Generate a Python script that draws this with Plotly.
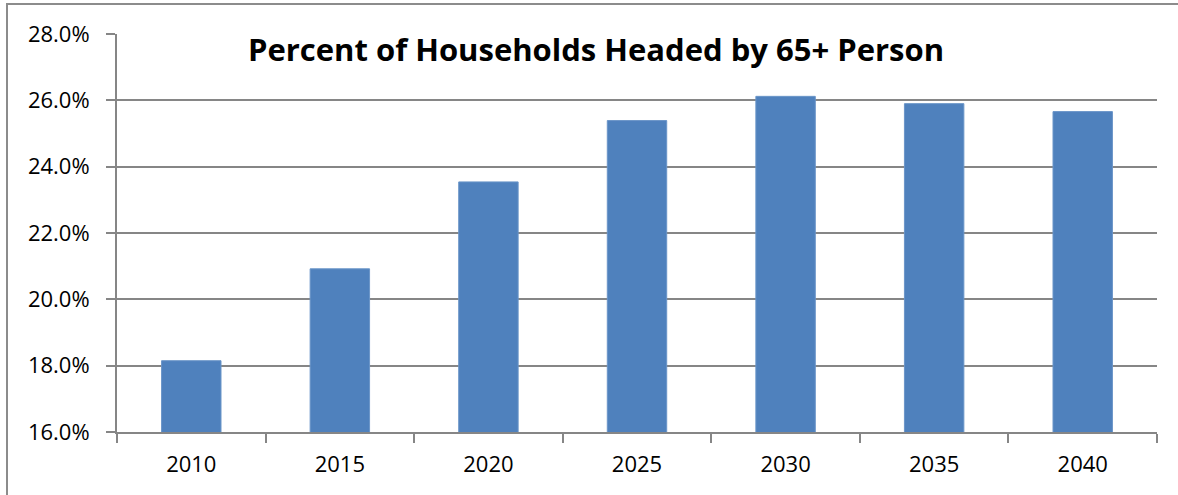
import plotly.graph_objects as go

years = ["2010", "2015", "2020", "2025", "2030", "2035", "2040"]
pct_65plus = [18.15, 20.92, 23.54, 25.39, 26.12, 25.90, 25.66]
y_ticks = [16, 18, 20, 22, 24, 26, 28]
y_tick_labels = ["16.0%", "18.0%", "20.0%", "22.0%", "24.0%", "26.0%", "28.0%"]

W, H = 1178, 495
L, R, T, B = 117, 21, 34, 63
fig = go.Figure()
fig.add_trace(go.Bar(
    x=years, y=pct_65plus, width=0.4,
    marker=dict(color="#4F81BD", line=dict(color="#6A95C8", width=1)),
))

axis_col = "#868686"
fig.update_layout(
    width=W, height=H,
    margin=dict(l=L, r=R, t=T, b=B),
    paper_bgcolor="white", plot_bgcolor="white",
    showlegend=False,
    font=dict(family="Open Sans, sans-serif", color="black"),
    title=dict(text="<b>Percent of Households Headed by 65+ Person</b>",
               x=596 / W, xanchor="center", xref="container",
               y=1 - 50 / H, yanchor="middle", yref="container",
               font=dict(size=31, color="black")),
)
fig.update_xaxes(
    type="category", showline=True, linecolor=axis_col, linewidth=2,
    ticks="outside", tickson="boundaries", ticklen=9, tickcolor=axis_col, tickwidth=2,
    showgrid=False, tickfont=dict(size=22), ticklabelstandoff=12,
)
fig.update_yaxes(
    range=[16, 28], tickvals=y_ticks, ticktext=y_tick_labels,
    showline=True, linecolor=axis_col, linewidth=2,
    ticks="outside", ticklen=9, tickcolor=axis_col, tickwidth=2,
    showgrid=True, gridcolor=axis_col, gridwidth=1.5,
    tickfont=dict(size=22), ticklabelstandoff=12, zeroline=False,
)
# outer chart border (top and left visible; cropped at right/bottom)
pw, ph = W - L - R, H - T - B
fig.add_shape(type="rect", xref="paper", yref="paper",
              x0=(7 - L) / pw, x1=1 + (R + 20) / pw,
              y0=-(B + 20) / ph, y1=1 + (T - 4) / ph,
              line=dict(color="#8C8C8C", width=2), layer="below")
fig.write_html("out.html", config={"displayModeBar": False},
               post_script="document.body.style.margin='0';")
